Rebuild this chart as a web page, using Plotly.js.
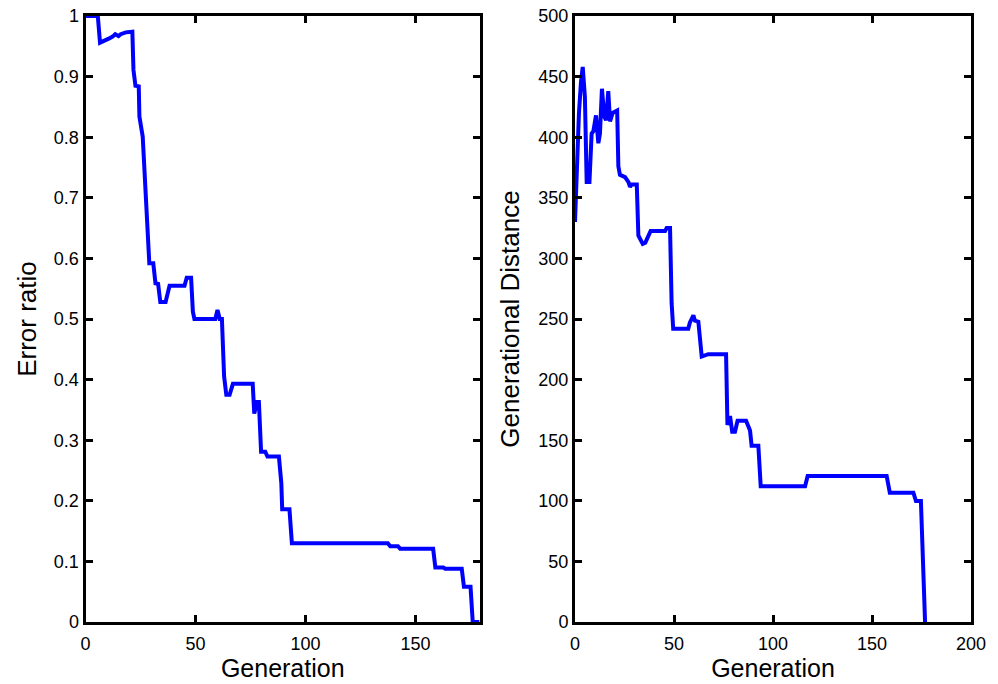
<!DOCTYPE html>
<html>
<head>
<meta charset="utf-8">
<script src="https://cdn.plot.ly/plotly-3.0.1.min.js"></script>
<style>html,body{margin:0;padding:0;background:#fff;}#chart{width:998px;height:684px;}</style>
</head>
<body>
<div id="chart"></div>
<script>
// Left panel: Error ratio vs Generation (vertices)
const errGen = [0, 5.6, 6.6, 8.5, 10.8, 12.3, 13.5, 15, 16, 18.3, 20.6, 21.3, 21.8, 22.7, 24.2, 24.5, 26, 29, 30.8, 31.8, 33, 34, 36.4, 38.2, 45, 46, 48, 48.8, 49.5, 59, 60, 61, 62, 63, 64, 65.5, 67, 76, 76.7, 78, 78.8, 79.8, 81.7, 82.7, 87.9, 89, 89.4, 92.7, 93.8, 137.4, 138.5, 142, 143, 158, 159, 162.6, 163.5, 171, 172, 175, 176, 179];
const errVal = [1, 1, 0.956, 0.960, 0.963, 0.966, 0.970, 0.967, 0.970, 0.973, 0.974, 0.974, 0.911, 0.885, 0.884, 0.834, 0.801, 0.592, 0.592, 0.559, 0.558, 0.528, 0.528, 0.555, 0.555, 0.568, 0.568, 0.512, 0.500, 0.500, 0.515, 0.500, 0.500, 0.405, 0.375, 0.375, 0.393, 0.393, 0.344, 0.363, 0.363, 0.281, 0.281, 0.273, 0.273, 0.229, 0.186, 0.186, 0.130, 0.130, 0.125, 0.125, 0.121, 0.121, 0.090, 0.090, 0.088, 0.088, 0.058, 0.058, 0, 0];

// Right panel: Generational Distance vs Generation
const gdGen = [0, 1, 2, 3, 3.9, 5, 5.9, 7.3, 8.4, 9.3, 10.6, 11.8, 12.6, 13.6, 14.8, 15.7, 16.8, 17.7, 19, 21.3, 21.9, 22.7, 25.3, 27, 27.8, 28.6, 31.2, 32, 32.8, 34.2, 35.5, 38.2, 45.5, 46.3, 48, 48.8, 49.6, 57.2, 58, 59.8, 60.6, 62.3, 64, 66.5, 67.3, 76.3, 77, 78.3, 79.4, 80.8, 82.1, 86.4, 88.4, 89.2, 92.6, 93.8, 116.2, 117.5, 157.4, 159, 170.9, 172.2, 174.7, 176.8];
const gdVal = [330, 390, 420, 445, 458, 433, 363, 363, 403, 405, 418, 395, 403, 440, 417, 414, 438, 413, 420, 422, 376, 369, 367, 363, 359, 361, 361, 319, 317, 312, 313, 322.6, 322.6, 325, 325, 263, 242, 242, 247, 253, 248.6, 247.8, 219, 220, 221, 221, 162.5, 170, 157, 157, 166, 166, 158, 145.5, 145.5, 112, 112, 120.5, 120.5, 106.7, 106.7, 99.8, 99.8, 0];

const xLabel = 'Generation';
const yLabelLeft = 'Error ratio';
const yLabelRight = 'Generational Distance';

const lineStyle = {color: '#0000FF', width: 4};
const fontFam = 'Liberation Sans, Arial, sans-serif';
const titleFont = {family: fontFam, size: 26, color: '#000'};
const xTitleFont = {family: fontFam, size: 25, color: '#000'};

const axisCommon = {
  showline: true, linecolor: '#000', linewidth: 3, mirror: 'allticks',
  ticks: 'inside', ticklen: 7, tickwidth: 3, tickcolor: '#000',
  showgrid: false, zeroline: false, fixedrange: true,
  tickfont: {family: fontFam, size: 18, color: '#000'},
  automargin: false
};

const data = [
  {x: errGen, y: errVal, type: 'scatter', mode: 'lines', line: lineStyle, xaxis: 'x', yaxis: 'y'},
  {x: gdGen, y: gdVal, type: 'scatter', mode: 'lines', line: lineStyle, xaxis: 'x2', yaxis: 'y2'}
];

const layout = {
  width: 998, height: 684,
  margin: {l: 0, r: 0, t: 0, b: 0},
  paper_bgcolor: '#fff', plot_bgcolor: '#fff',
  showlegend: false,
  font: {family: fontFam, color: '#000'},
  xaxis: Object.assign({}, axisCommon, {
    domain: [85.5/998, 480/998], range: [0, 179.3], tickvals: [0, 50, 100, 150],
    anchor: 'y', ticklabelstandoff: 3,
    title: {text: xLabel, font: xTitleFont, standoff: 2}
  }),
  yaxis: Object.assign({}, axisCommon, {
    domain: [62/684, 668/684], range: [0, 1], dtick: 0.1, tick0: 0,
    anchor: 'x',
    title: {text: yLabelLeft, font: titleFont, standoff: 10}
  }),
  xaxis2: Object.assign({}, axisCommon, {
    domain: [575/998, 971/998], range: [0, 200], dtick: 50, tick0: 0,
    anchor: 'y2', ticklabelstandoff: 3,
    title: {text: xLabel, font: xTitleFont, standoff: 2}
  }),
  yaxis2: Object.assign({}, axisCommon, {
    domain: [62/684, 668/684], range: [0, 500], dtick: 50, tick0: 0,
    anchor: 'x2',
    title: {text: yLabelRight, font: titleFont, standoff: 12}
  })
};

Plotly.newPlot('chart', data, layout, {displayModeBar: false, staticPlot: true});
</script>
</body>
</html>
